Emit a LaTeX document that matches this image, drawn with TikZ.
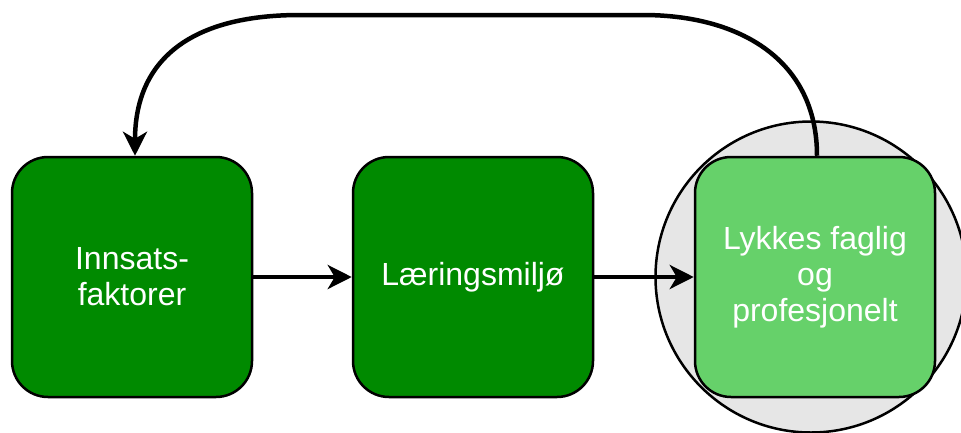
\documentclass[tikz,border=0pt]{standalone}
\usepackage{fontspec}
\setmainfont{Liberation Sans}
\usetikzlibrary{arrows.meta}
\definecolor{dkgreen}{HTML}{008A00}
\definecolor{ltgreen}{HTML}{66D16A}
\definecolor{ltgray}{HTML}{E6E6E6}
\begin{document}
\begin{tikzpicture}[x=1pt,y=-1pt,
  box/.style={draw=black, line width=2.5pt, rounded corners=36pt, minimum width=240pt, minimum height=240pt, align=center, text=white, font=\fontsize{32pt}{36pt}\selectfont},
  flow/.style={line width=4.5pt, -{Stealth[length=24pt,width=24pt,inset=7pt]}}]
\useasboundingbox (0,0) rectangle (961,432);
\node[circle, draw=black, line width=2.5pt, fill=ltgray, minimum size=311pt, inner sep=0pt] (c) at (811,277) {};
\node[box, fill=dkgreen] (l) at (132,277) {Innsats-\\faktorer};
\node[box, fill=dkgreen] (m) at (473,277) {Læringsmiljø};
\node[box, fill=ltgreen] (r) at (815,277) {Lykkes faglig\\og\\profesjonelt};
\draw[flow] (l.east) -- (m.west);
\draw[flow] (m.east) -- (r.west);
\draw[flow] ([xshift=2pt]r.north) .. controls (817,60) and (740,15) .. (643,15) -- (300,15) .. controls (190,15) and (135,60) .. ([xshift=3pt]l.north);
\end{tikzpicture}
\end{document}
